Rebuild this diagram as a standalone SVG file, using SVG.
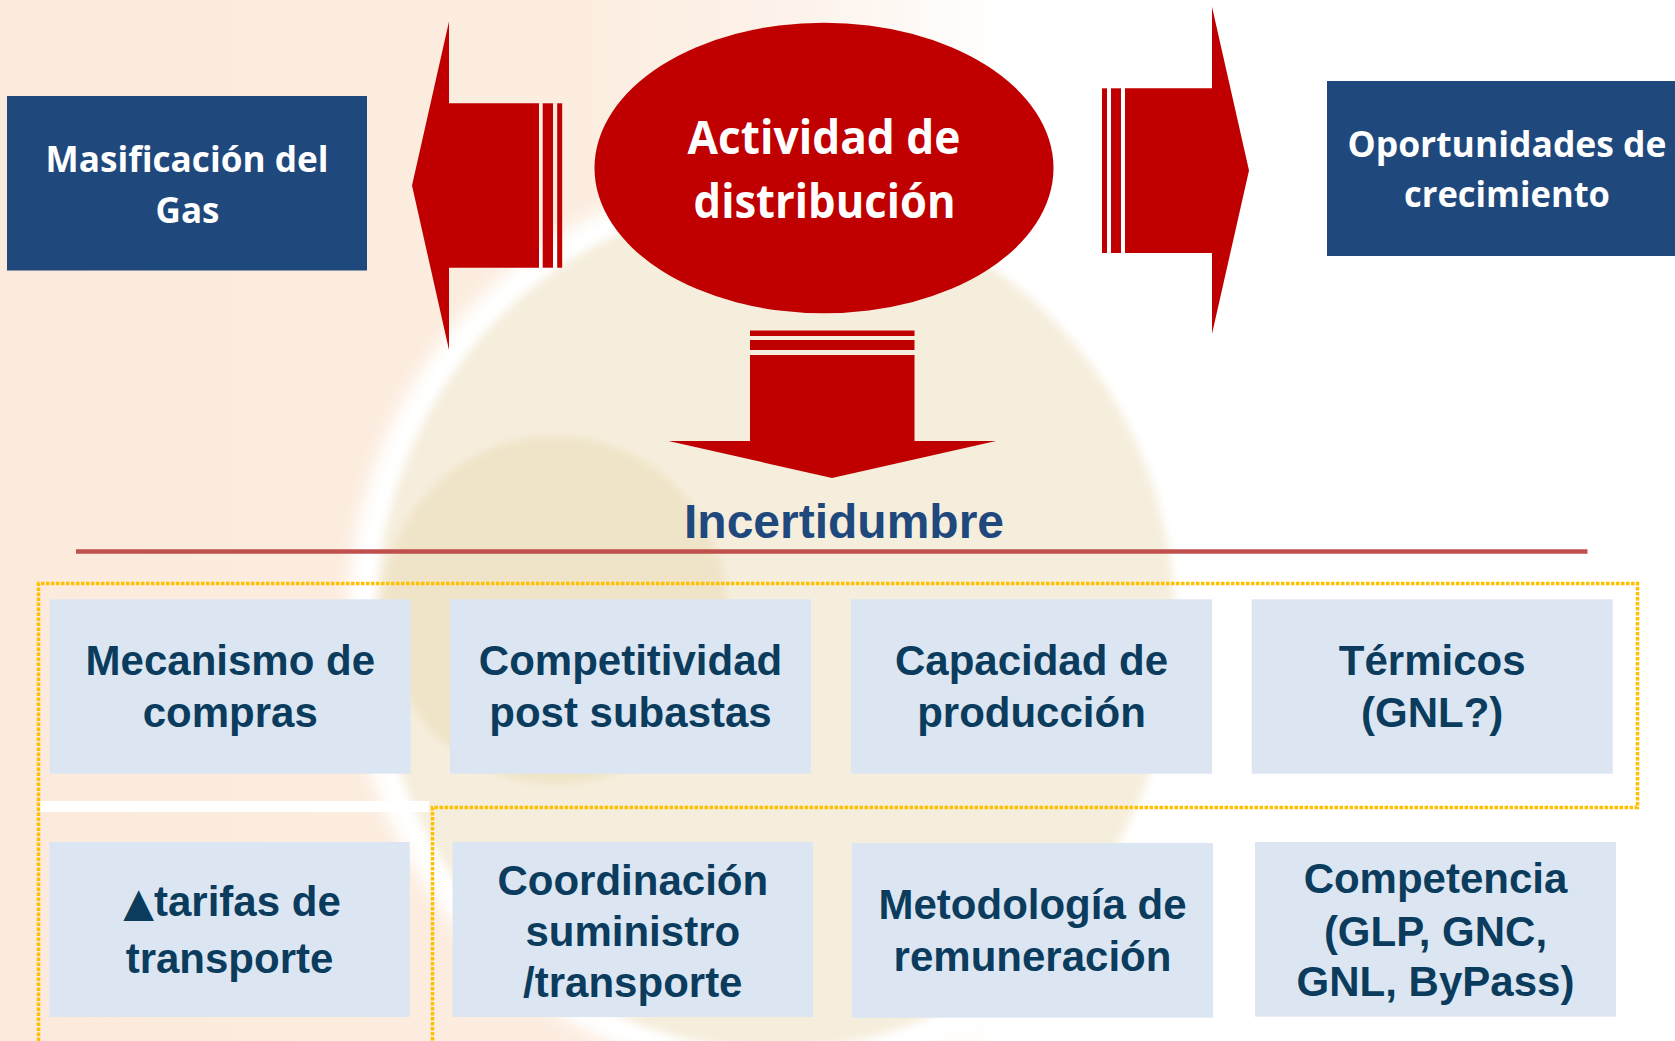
<svg xmlns="http://www.w3.org/2000/svg" width="1675" height="1041" viewBox="0 0 1675 1041">
  <defs>
    <linearGradient id="peach" x1="0" y1="0" x2="1" y2="0">
      <stop offset="0" stop-color="#FCEBDC"/>
      <stop offset="0.35" stop-color="#FCEDE0"/>
      <stop offset="0.48" stop-color="#FDF3EB"/>
      <stop offset="0.6" stop-color="#FFFFFF"/>
    </linearGradient>
    <filter id="soft" x="-20%" y="-20%" width="140%" height="140%">
      <feGaussianBlur stdDeviation="8"/>
    </filter>
    <filter id="soft2" x="-20%" y="-20%" width="140%" height="140%">
      <feGaussianBlur stdDeviation="4"/>
    </filter>
    <style>
      .red { fill: #C00000; }
      .hdr { fill: #1F497D; }
      .hdrtxt { font-family: "Open Sans", "Noto Sans", sans-serif; font-weight: bold; fill: #FFFFFF; text-anchor: middle; }
      .box { fill: #DCE6F2; }
      .boxtxt { font-family: "Liberation Sans", Arial, sans-serif; font-weight: bold; font-size: 42px; fill: #0B3C5D; text-anchor: middle; }
      .dots { fill: none; stroke: #FFC000; stroke-width: 3.5; stroke-dasharray: 3.5 1.5; }
    </style>
  </defs>

  <!-- background -->
  <rect x="0" y="0" width="1675" height="1041" fill="url(#peach)"/>
  <ellipse cx="775" cy="625" rx="428" ry="452" fill="#FFFFFF" filter="url(#soft)"/>
  <ellipse cx="775" cy="625" rx="400" ry="425" fill="#F6EEDD" filter="url(#soft2)"/>
  <ellipse cx="555" cy="610" rx="172" ry="174" fill="#EFE4C7" filter="url(#soft2)"/>

  <!-- dotted grouping outline -->
  <path class="dots" d="M38.5,1041 V583.5 H1637.5 V807.5 H432.5 V1041"/>
  <rect x="40.5" y="801" width="388.5" height="11" fill="#FFFFFF"/>

  <!-- connectors (block arrows) -->
  <g id="connectors">
    <g id="arrow-left">
      <polygon class="red" points="412,185.5 449,21.5 449,103.3 539,103.3 539,267.7 449,267.7 449,350"/>
      <rect class="red" x="542.7" y="103.3" width="10.3" height="164.4"/>
      <rect class="red" x="557.2" y="103.3" width="5" height="164.4"/>
    </g>
    <g id="arrow-right">
      <polygon class="red" points="1249,170.5 1212,6.7 1212,88.3 1125,88.3 1125,253 1212,253 1212,334"/>
      <rect class="red" x="1111" y="88.3" width="10" height="164.7"/>
      <rect class="red" x="1102" y="88.3" width="5" height="164.7"/>
    </g>
    <g id="arrow-down">
      <polygon class="red" points="750,355 914.5,355 914.5,441 996,441 832,478 668.5,441 750,441"/>
      <rect class="red" x="750" y="340" width="164.5" height="10"/>
      <rect class="red" x="750" y="330.5" width="164.5" height="5.5"/>
    </g>
  </g>

  <!-- top nodes -->
  <g id="node-masificacion">
    <rect class="hdr" x="7" y="96" width="360" height="174.5"/>
    <text class="hdrtxt" font-size="35" x="187" y="171.7" textLength="283" lengthAdjust="spacingAndGlyphs">Masificación del</text>
    <text class="hdrtxt" font-size="35" x="187.5" y="222.7">Gas</text>
  </g>
  <g id="node-actividad">
    <ellipse class="red" cx="824" cy="168" rx="229.5" ry="145.3"/>
    <text class="hdrtxt" font-size="47" x="824" y="154" textLength="273" lengthAdjust="spacingAndGlyphs">Actividad de</text>
    <text class="hdrtxt" font-size="47" x="824.6" y="218.3" textLength="262" lengthAdjust="spacingAndGlyphs">distribución</text>
  </g>
  <g id="node-oportunidades">
    <rect class="hdr" x="1327" y="81" width="360" height="175"/>
    <text class="hdrtxt" font-size="36" x="1507" y="156.7" textLength="319" lengthAdjust="spacingAndGlyphs">Oportunidades de</text>
    <text class="hdrtxt" font-size="36" x="1507" y="207.3" textLength="206" lengthAdjust="spacingAndGlyphs">crecimiento</text>
  </g>

  <!-- heading -->
  <g id="node-incertidumbre">
    <text x="844" y="538" font-family="Liberation Sans, Arial, sans-serif" font-weight="bold" font-size="48" fill="#1F497D" text-anchor="middle">Incertidumbre</text>
    <line x1="76" y1="551.5" x2="1587.5" y2="551.5" stroke="#C0504D" stroke-width="4.5"/>
  </g>

  <!-- row 1 -->
  <g id="node-mecanismo">
    <rect class="box" x="49.8" y="599.3" width="361" height="174.4"/>
    <text class="boxtxt" x="230.3" y="675">Mecanismo de</text>
    <text class="boxtxt" x="230.3" y="727">compras</text>
  </g>
  <g id="node-competitividad">
    <rect class="box" x="450" y="599.3" width="361" height="174.4"/>
    <text class="boxtxt" x="630.5" y="675">Competitividad</text>
    <text class="boxtxt" x="630.5" y="727">post subastas</text>
  </g>
  <g id="node-capacidad">
    <rect class="box" x="851" y="599.3" width="361" height="174.4"/>
    <text class="boxtxt" x="1031.5" y="675">Capacidad de</text>
    <text class="boxtxt" x="1031.5" y="727">producción</text>
  </g>
  <g id="node-termicos">
    <rect class="box" x="1251.7" y="599.3" width="361" height="174.4"/>
    <text class="boxtxt" x="1432.2" y="675">Térmicos</text>
    <text class="boxtxt" x="1432.2" y="727">(GNL?)</text>
  </g>

  <!-- row 2 -->
  <g id="node-tarifas">
    <rect class="box" x="49.3" y="842" width="360.4" height="175"/>
    <text class="boxtxt" x="232" y="916"><tspan font-family="DejaVu Sans, sans-serif" font-size="40">▲</tspan>tarifas de</text>
    <text class="boxtxt" x="229.5" y="973">transporte</text>
  </g>
  <g id="node-coordinacion">
    <rect class="box" x="452.6" y="842" width="360.4" height="175"/>
    <text class="boxtxt" x="632.8" y="895">Coordinación</text>
    <text class="boxtxt" x="632.8" y="946">suministro</text>
    <text class="boxtxt" x="632.8" y="997">/transporte</text>
  </g>
  <g id="node-metodologia">
    <rect class="box" x="852" y="843" width="361" height="174.7"/>
    <text class="boxtxt" x="1032.5" y="919">Metodología de</text>
    <text class="boxtxt" x="1032.5" y="971">remuneración</text>
  </g>
  <g id="node-competencia">
    <rect class="box" x="1255" y="842" width="361" height="174.7"/>
    <text class="boxtxt" x="1435.5" y="893">Competencia</text>
    <text class="boxtxt" x="1435.5" y="945.5">(GLP, GNC,</text>
    <text class="boxtxt" x="1435.5" y="996">GNL, ByPass)</text>
  </g>
</svg>
